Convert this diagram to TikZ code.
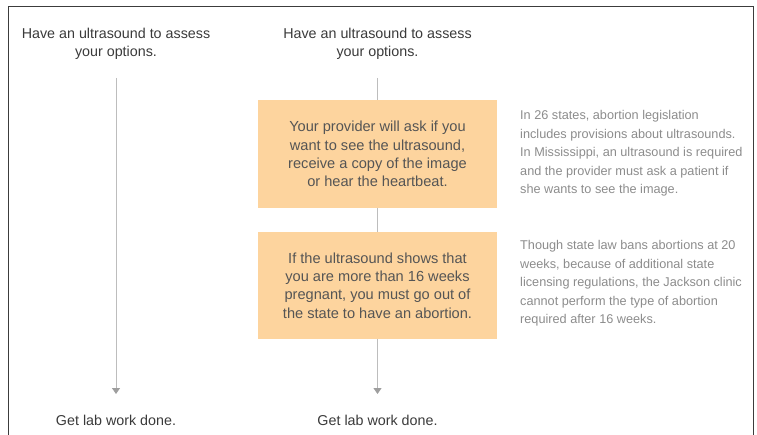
\documentclass[tikz,border=0pt]{standalone}
\usepackage{fontspec}
\setmainfont{Liberation Sans}
\usetikzlibrary{arrows.meta}
\definecolor{boxfill}{HTML}{FDD49E}
\definecolor{headtxt}{HTML}{3A3A3A}
\definecolor{boxtxt}{HTML}{555555}
\definecolor{notetxt}{HTML}{8C8C8C}
\definecolor{linecol}{HTML}{BDBDBD}
\definecolor{tipcol}{HTML}{9E9E9E}
\definecolor{framecol}{HTML}{3C3C3C}
\tikzset{
  head/.style={text=headtxt, font=\fontsize{14.3}{18}\selectfont, align=center, inner sep=0pt},
  stepbox/.style={fill=boxfill, text=boxtxt, font=\fontsize{14.6}{18.3}\selectfont, align=center,
    minimum width=239pt, inner sep=0pt},
  note/.style={text=notetxt, font=\fontsize{12.7}{18.4}\selectfont, align=left, anchor=west, inner sep=0pt},
  conn/.style={draw=linecol, line width=1pt},
  arr/.style={conn, -{Triangle[width=8pt,length=6pt,fill=tipcol,color=tipcol]}}
}
\begin{document}
\begin{tikzpicture}[x=1pt,y=-1pt]
\useasboundingbox (0,0) rectangle (757,435);
\draw[framecol, line width=0.9pt] (8,440) -- (8,6) -- (753,6) -- (753,440);

\node[head] (h1) at (116,43.5) {Have an ultrasound to assess\\your options.};
\node[head] (h2) at (377.5,43.5) {Have an ultrasound to assess\\your options.};

\node[stepbox, minimum height=108pt] (b1) at (377.5,154) {Your provider will ask if you\\want to see the ultrasound,\\receive a copy of the image\\or hear the heartbeat.};
\node[stepbox, minimum height=107pt] (b2) at (377.5,285.5) {If the ultrasound shows that\\you are more than 16 weeks\\pregnant, you must go out of\\the state to have an abortion.};

\node[note] (n1) at (520,153.5) {In 26 states, abortion legislation\\includes provisions about ultrasounds.\\In Mississippi, an ultrasound is required\\and the provider must ask a patient if\\she wants to see the image.};
\node[note] (n2) at (520,283.5) {Though state law bans abortions at 20\\weeks, because of additional state\\licensing regulations, the Jackson clinic\\cannot perform the type of abortion\\required after 16 weeks.};

\node[head] (g1) at (116,420.5) {Get lab work done.};
\node[head] (g2) at (377.5,420.5) {Get lab work done.};

\coordinate (s1) at (116,78);
\coordinate (e1) at (116,394);
\coordinate (s2) at (377.5,78);
\coordinate (e2) at (377.5,394);

\draw[arr] (s1) -- (e1);
\draw[conn] (s2) -- (b1.north);
\draw[conn] (b1.south) -- (b2.north);
\draw[arr] (b2.south) -- (e2);
\end{tikzpicture}
\end{document}
